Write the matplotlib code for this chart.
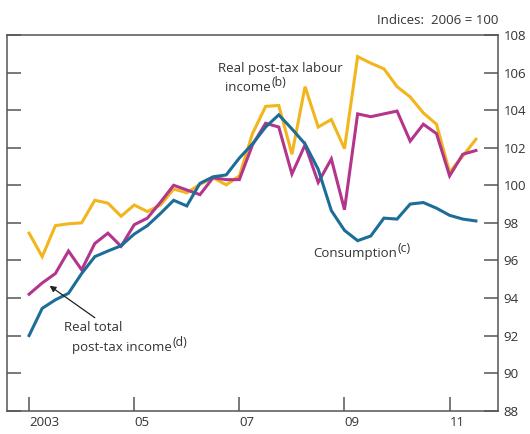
import matplotlib
matplotlib.use("Agg")
import matplotlib.pyplot as plt
import numpy as np

# quarterly data, 2003 Q1 to 2011 Q3
start_year = 2003
consumption = [92.0, 93.45, 93.9, 94.25, 95.3, 96.2, 96.5, 96.78, 97.4, 97.85,
               98.5, 99.2, 98.9, 100.1, 100.45, 100.55, 101.45, 102.2, 103.1, 103.75,
               103.0, 102.2, 100.85, 98.65, 97.6, 97.05, 97.3, 98.25, 98.2, 99.0,
               99.08, 98.78, 98.4, 98.2, 98.1]
total_income = [94.2, 94.8, 95.3, 96.5, 95.5, 96.9, 97.45, 96.75, 97.9, 98.25,
                99.1, 100.0, 99.75, 99.5, 100.4, 100.3, 100.3, 102.15, 103.3, 103.1,
                100.6, 102.15, 100.15, 101.4, 98.7, 103.8, 103.65, 103.8, 103.95, 102.35,
                103.25, 102.75, 100.5, 101.65, 101.85]
labour_income = [97.45, 96.2, 97.85, 97.95, 98.0, 99.2, 99.05, 98.35, 98.95, 98.6,
                 98.95, 99.8, 99.6, 100.05, 100.4, 100.02, 100.5, 102.75, 104.2, 104.25,
                 101.65, 105.25, 103.1, 103.5, 101.95, 106.85, 106.5, 106.2, 105.25, 104.7,
                 103.85, 103.25, 100.7, 101.55, 102.45]
year_ticks = [2003, 2005, 2007, 2009, 2011]
year_labels = ["2003", "05", "07", "09", "11"]
y_ticks = list(range(88, 109, 2))

plt.rcParams['font.family'] = ['Open Sans', 'DejaVu Sans']
txt = '#333333'

x = start_year + np.arange(len(consumption)) * 0.25

fig = plt.figure(figsize=(5.3, 4.34), dpi=100)
ax = fig.add_axes([0.0132, 0.0537, 0.9264, 0.8657])

ax.plot(x, labour_income, color='#F2B51C', lw=2.2, solid_joinstyle='miter')
ax.plot(x, total_income, color='#B4358C', lw=2.2, solid_joinstyle='miter')
ax.plot(x, consumption, color='#1C6E98', lw=2.2, solid_joinstyle='miter')

ax.set_xlim(2002.58, 2011.92)
ax.set_ylim(88, 108)

for s in ax.spines.values():
    s.set_color('#555555')
    s.set_linewidth(1.1)

ax.set_yticks(y_ticks)
ax.yaxis.tick_right()
ax.tick_params(axis='y', which='both', direction='in', length=10, width=1.1,
               color='#555555', left=True, right=True, labelleft=False,
               labelright=True, labelsize=9.5, labelcolor=txt, pad=4)
ax.set_xticks(year_ticks)
ax.set_xticklabels(year_labels, ha='left')
ax.tick_params(axis='x', direction='in', length=10, width=1.1, color='#555555',
               labelsize=9.5, labelcolor=txt, pad=4)

# text labels, superscript notes added after a draw so we know the widths
labels = [
    (2006.59, 106.03, "Real post-tax labour", None),
    (2006.72, 105.02, "income", "(b)"),
    (2008.40, 96.19, "Consumption", "(c)"),
    (2003.66, 92.26, "Real total", None),
    (2003.81, 91.2, "post-tax income", "(d)"),
]
placed = []
for xv, yv, s, sup in labels:
    t = ax.text(xv, yv, s, fontsize=9.5, color=txt, va='baseline')
    placed.append((t, xv, yv, sup))

fig.canvas.draw()
renderer = fig.canvas.get_renderer()
for t, xv, yv, sup in placed:
    if not sup:
        continue
    bb = t.get_window_extent(renderer)
    base = ax.transData.transform((xv, yv))[1]
    sx, sy = ax.transData.inverted().transform((bb.x1 + 1, base + 5))
    ax.text(sx, sy, sup, fontsize=8.8, color=txt, va='baseline', ha='left')

ax.annotate("", xy=(2003.39, 94.65), xytext=(2004.25, 92.95),
            arrowprops=dict(arrowstyle='-|>', color='#222222', lw=0.9,
                            mutation_scale=9, shrinkA=0, shrinkB=0))

ax.text(1.0, 1.03, "Indices:  2006 = 100", transform=ax.transAxes, ha='right',
        va='baseline', fontsize=9.5, color=txt)

fig.savefig("out.png", dpi=100)
